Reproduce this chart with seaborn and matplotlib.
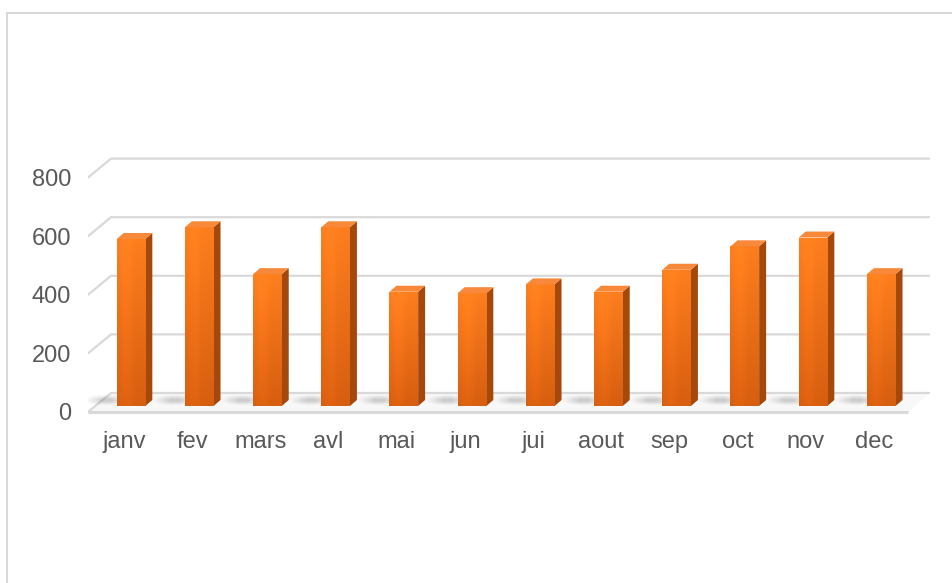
import numpy as np
import pandas as pd
import matplotlib
matplotlib.use("Agg")
import matplotlib.pyplot as plt
from matplotlib.patches import Polygon, Rectangle, Ellipse
import seaborn as sns

# ---- data -------------------------------------------------------------
months = ["janv", "fev", "mars", "avl", "mai", "jun", "jui", "aout",
          "sep", "oct", "nov", "dec"]
values = [570, 610, 450, 610, 390, 385, 415, 390, 465, 545, 575, 450]
y_ticks = [0, 200, 400, 600, 800]

sns.set_theme(style="white")
plt.rcParams["font.family"] = ["Liberation Sans", "DejaVu Sans"]

W, H = 952, 583
fig = plt.figure(figsize=(W / 100, H / 100), dpi=100)
fig.patch.set_facecolor("white")

# ---- pixel layout of the pseudo-3D plot ------------------------------
X0_PX, STEP_PX = 131, 68.2          # first column centre, column spacing
ZERO_PX, PX_PER_UNIT = 406, 0.293   # baseline of the columns, vertical scale
L, R, T, B = 88, 930, 140, 420      # axes box in pixels

ax = fig.add_axes([L / W, 1 - B / H, (R - L) / W, (B - T) / H])


def xdata(px):
    return (px - X0_PX) / STEP_PX


# depth offsets (front edge of floor / back wall) in data units
FRONT_DX, FRONT_DY = -7 / STEP_PX, -6 / PX_PER_UNIT
BACK_DX, BACK_DY = 16 / STEP_PX, 13 / PX_PER_UNIT
SIDE_DX, SIDE_DY = 7 / STEP_PX, 6 / PX_PER_UNIT

df = pd.DataFrame({"mois": months, "valeur": values})
sns.barplot(data=df, x="mois", y="valeur", width=0.42, color="#EE7419",
            saturation=1, ax=ax, zorder=5, linewidth=0)

bars = list(ax.patches)

ax.set_xlim(xdata(L), xdata(R))
ax.set_ylim(-(B - ZERO_PX) / PX_PER_UNIT, (ZERO_PX - T) / PX_PER_UNIT)

GRID = "#D9D9D9"
x_front_left, x_back_left = xdata(88), xdata(111)
x_back_right, x_front_right = xdata(930), xdata(908)

# floor
floor = Polygon([(x_front_left, FRONT_DY), (x_front_right, FRONT_DY),
                 (x_back_right, BACK_DY), (x_back_left, BACK_DY)],
                closed=True, fc="#F8F8F8", ec="none", zorder=1)
ax.add_patch(floor)
ax.plot([x_front_left, x_front_right], [FRONT_DY, FRONT_DY],
        color=GRID, lw=2.2, zorder=2, solid_capstyle="butt")

# back wall gridlines with their side-wall diagonals
for v in y_ticks:
    ax.plot([x_front_left, x_back_left, x_back_right],
            [v + FRONT_DY, v + BACK_DY, v + BACK_DY],
            color=GRID, lw=1.6, zorder=1.5, solid_joinstyle="miter")

# soft shadows on the floor
for rect in bars:
    x0 = rect.get_x()
    for k, a in zip(range(5), [0.04, 0.05, 0.06, 0.07, 0.08]):
        s = 1 - k * 0.17
        ax.add_patch(Ellipse((x0 - 0.15, 0.45 * BACK_DY), 0.62 * s,
                             BACK_DY * 0.8 * s, fc="#606060", ec="none",
                             alpha=a, zorder=3))

# column faces: gradient front, dark side, light top
grad = np.linspace(0, 1, 200).reshape(-1, 1)
top_rgb = np.array([252, 126, 30]) / 255
bot_rgb = np.array([214, 94, 16]) / 255
front_img = bot_rgb + grad[..., None] * (top_rgb - bot_rgb)
front_img = np.repeat(front_img, 8, axis=1)
# light vertical sheen near the left third
xs = np.linspace(0, 1, 8)
sheen = 1 + 0.05 * np.exp(-((xs - 0.3) / 0.25) ** 2)
front_img = np.clip(front_img * sheen[None, :, None], 0, 1)

for rect in bars:
    x0, w, h = rect.get_x(), rect.get_width(), rect.get_height()
    im = ax.imshow(front_img, extent=[x0, x0 + w, 0, h], origin="lower",
                   aspect="auto", zorder=5.2, interpolation="bilinear")
    im.set_clip_path(rect)
    side = Polygon([(x0 + w, 0), (x0 + w + SIDE_DX, SIDE_DY),
                    (x0 + w + SIDE_DX, h + SIDE_DY), (x0 + w, h)],
                   closed=True, fc="#A4480B", ec="none", zorder=5.1)
    top = Polygon([(x0, h), (x0 + SIDE_DX, h + SIDE_DY),
                   (x0 + w + SIDE_DX, h + SIDE_DY), (x0 + w, h)],
                  closed=True, fc="#F8893A", ec="none", zorder=5.3)
    ax.add_patch(side)
    ax.add_patch(top)

ax.set_xlim(xdata(L), xdata(R))
ax.set_ylim(-(B - ZERO_PX) / PX_PER_UNIT, (ZERO_PX - T) / PX_PER_UNIT)

# ---- axes text ---------------------------------------------------------
TXT = "#595959"
ax.set_yticks([v + FRONT_DY for v in y_ticks], [str(v) for v in y_ticks])
ax.set_xticks(np.arange(len(months)) + FRONT_DX, months)
ax.tick_params(axis="y", length=0, pad=12, labelsize=17, labelcolor=TXT)
ax.tick_params(axis="x", length=0, pad=8, labelsize=17, labelcolor=TXT)
ax.set_xlabel("")
ax.set_ylabel("")
for sp in ax.spines.values():
    sp.set_visible(False)
ax.set_facecolor("none")
ax.grid(False)

# chart area frame
fig.add_artist(Rectangle((7 / W, -0.1), 2, (H - 13) / H + 0.1,
                         transform=fig.transFigure, fill=False,
                         ec="#D9D9D9", lw=1.5))

fig.savefig("out.png", dpi=100, facecolor="white")
